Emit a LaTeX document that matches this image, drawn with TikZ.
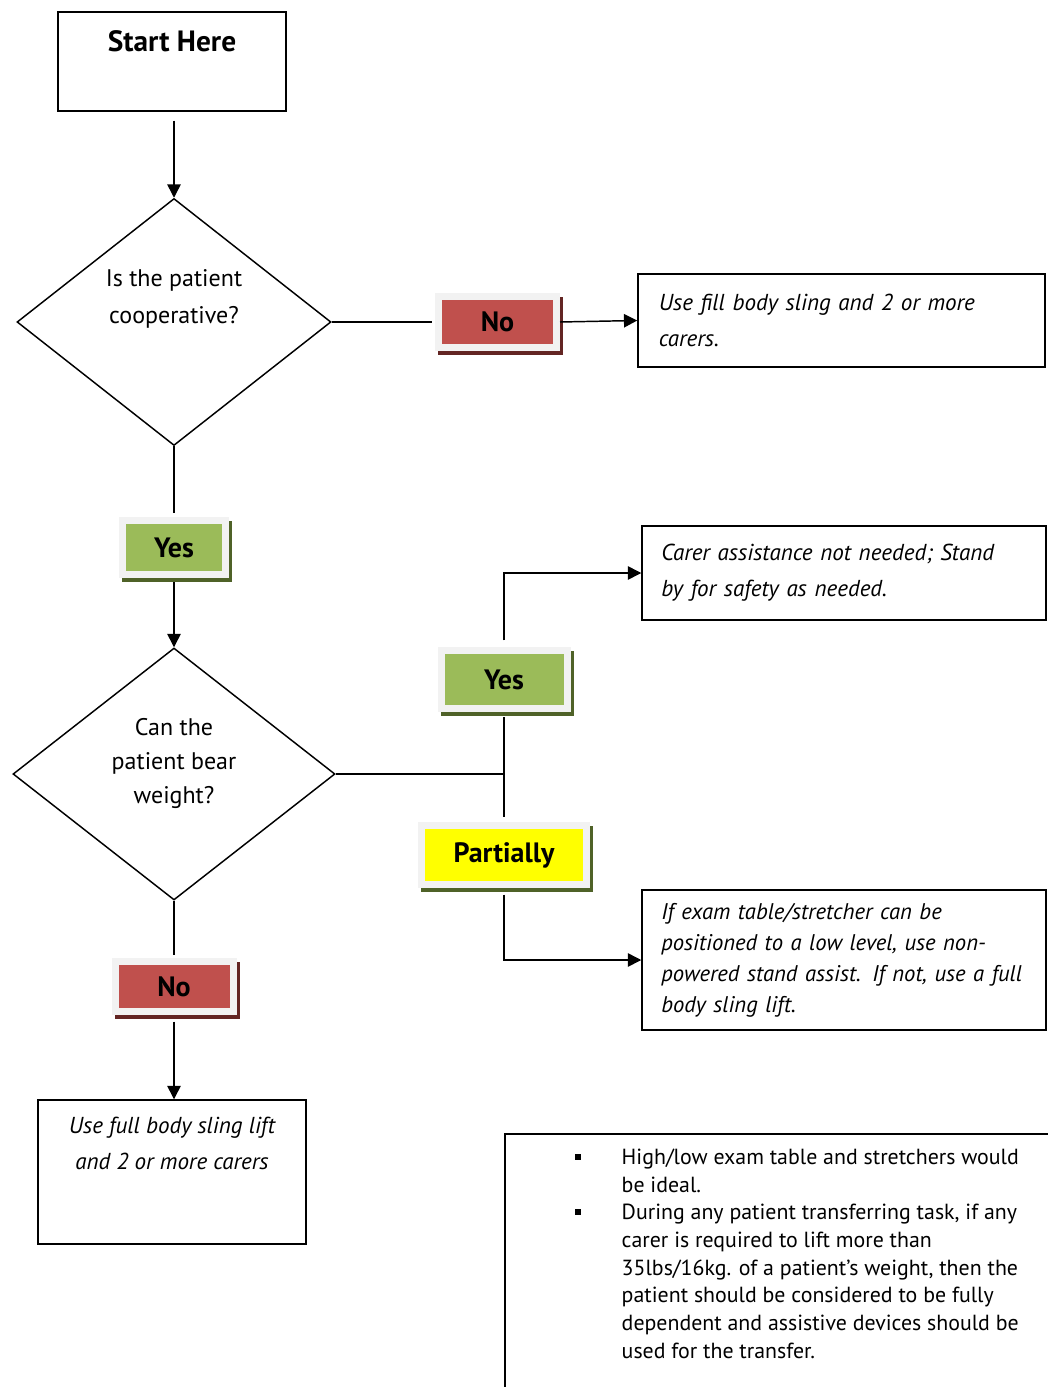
\documentclass[tikz,border=0pt]{standalone}
\usepackage{fontspec}
\setmainfont{PT Sans}
\usetikzlibrary{shapes.geometric,arrows.meta}

\definecolor{nored}{HTML}{C0504D}
\definecolor{noshade}{HTML}{632523}
\definecolor{yesgreen}{HTML}{9BBB59}
\definecolor{yesshade}{HTML}{4F6228}
\definecolor{partyellow}{HTML}{FFFF00}
\definecolor{labelrim}{HTML}{F2F2F2}

\begin{document}
\begin{tikzpicture}[x=0.75pt, y=-0.75pt, line width=1.1pt,
  box/.style={draw, rectangle, inner sep=0pt},
  decision/.style={draw, diamond, inner sep=0pt},
  plain/.style={font=\fontsize{18}{27}\selectfont, align=center, inner sep=0pt},
  note/.style={font=\fontsize{17.3}{27}\selectfont\itshape, align=left},
  answer/.style n args={2}{rectangle, inner sep=0pt, fill=#1, draw=labelrim,
    line width=5.25pt, font=\fontsize{21}{24}\selectfont\bfseries,
    preaction={draw=#2, fill=#2, transform canvas={shift={(2.25pt,-3pt)}}}},
  arrow/.style={-{Triangle[length=10pt, width=10pt]}}]
\useasboundingbox (0,0) rectangle (1048,1387);

\def \xmain   {174}
\def \xbox    {172}
\def \xsplit  {504}
\def \xright  {844}

\def \ystart  {61.5}
\def \ycoop   {322}
\def \yyes    {547.5}
\def \ycarer  {573}
\def \yyestwo {679.5}
\def \ybear   {774}
\def \ypart   {855}
\def \ylift   {960}
\def \yno     {986.5}
\def \ysling  {1172}

% start
\node [box, minimum width=171pt, minimum height=74.25pt] (start) at (\xbox, \ystart) {};
\node [plain, font=\fontsize{22}{24}\selectfont\bfseries] (starttext) at (\xbox, 41) {Start Here};

% is the patient cooperative
\node [decision, minimum width=235.5pt, minimum height=185.25pt] (coop) at (\xmain, \ycoop) {};
\node [plain, font=\fontsize{18}{28}\selectfont] (cooptext) at (\xmain, 299) {Is the patient\\cooperative?};
\draw [arrow, shorten <=6.75pt] (start.south -| coop.north) -- (coop.north);

% no -> full body sling
\node [answer={nored}{noshade}, minimum width=88.5pt, minimum height=37.5pt] (noone) at (497.5, \ycoop) {No};
\node [box, note, minimum width=305.25pt, minimum height=69.75pt, text width=274pt] (slingone) at (841.5, 320.5) {Use fill body sling and 2 or more\\carers.};
\draw [shorten >=2pt] (coop.east) -- (noone.west);
\draw [arrow] (noone.east) -- (slingone.west);

% yes -> can the patient bear weight
\node [answer={yesgreen}{yesshade}, minimum width=77.25pt, minimum height=40.5pt] (yesone) at (\xmain, \yyes) {Yes};
\node [decision, minimum width=241.5pt, minimum height=189pt] (bear) at (\xmain, \ybear) {};
\node [plain, font=\fontsize{18}{25.5}\selectfont] (beartext) at (\xmain, 763) {Can the\\patient bear\\weight?};
\draw [shorten >=3pt] (coop.south) -- (yesone.north);
\draw [arrow, shorten <=3pt] (yesone.south) -- (bear.north);

% split
\coordinate (split) at (\xsplit, \ybear);
\node [answer={yesgreen}{yesshade}, minimum width=94.5pt, minimum height=43.5pt] (yestwo) at (\xsplit, \yyestwo) {Yes};
\node [answer={partyellow}{yesshade}, minimum width=123.75pt, minimum height=44.25pt] (partial) at (\xsplit, \ypart) {Partially};
\draw (bear.east) -- (split);
\draw [shorten <=4pt, shorten >=4pt] (yestwo.south) -- (partial.north);

% carer not needed
\node [box, note, minimum width=303pt, minimum height=70.5pt, text width=274pt] (carer) at (\xright, \ycarer) {Carer assistance not needed; Stand\\by for safety as needed.};
\draw [arrow, shorten <=5pt] (yestwo.north) |- (carer.west);

% stand assist
\node [box, note, font=\fontsize{17}{23.25}\selectfont\itshape, minimum width=303pt, minimum height=105pt, text width=274pt] (lift) at (\xright, \ylift) {If exam table/stretcher can be\\positioned to a low level, use non-\\powered stand assist. If not, use a full\\body sling lift.};
\draw [arrow, shorten <=5pt] (partial.south) |- (lift.west);

% no -> full body sling lift
\node [answer={nored}{noshade}, minimum width=88.5pt, minimum height=37.5pt] (notwo) at (\xmain, \yno) {No};
\node [box, minimum width=201pt, minimum height=108pt] (slingtwo) at (\xbox, \ysling) {};
\node [plain, font=\fontsize{17.3}{27}\selectfont\itshape] (slingtext) at (\xbox, 1143) {Use full body sling lift\\and 2 or more carers};
\draw [shorten >=2pt] (bear.south) -- (notwo.north);
\draw [arrow, shorten <=5pt] (notwo.south) -- (notwo.south |- slingtwo.north);

% notes
\draw (505, 1420) -- (505, 1134) -- (1080, 1134);
\fill (575, 1154) rectangle (581, 1160);
\fill (575, 1209) rectangle (581, 1215);
\node [plain, font=\fontsize{16.4}{20.8}\selectfont, align=left, anchor=north west] (notes) at (621, 1148) {High/low exam table and stretchers would\\be ideal.\\During any patient transferring task, if any\\carer is required to lift more than\\35lbs/16kg. of a patient’s weight, then the\\patient should be considered to be fully\\dependent and assistive devices should be\\used for the transfer.};

\end{tikzpicture}
\end{document}
